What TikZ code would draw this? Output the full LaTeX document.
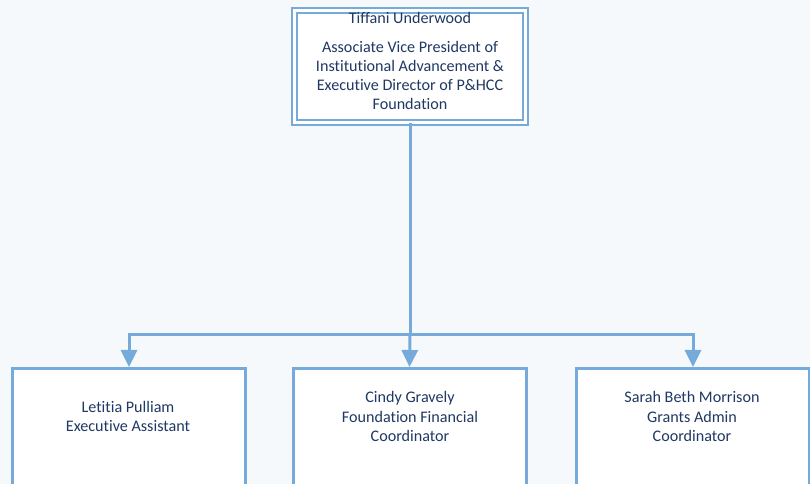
\documentclass[tikz,border=0pt]{standalone}
\usepackage{fontspec}
\setmainfont[RawFeature={-liga;-clig;-dlig}]{Carlito}
\usetikzlibrary{arrows.meta}
\definecolor{bg}{HTML}{F5F9FC}
\definecolor{edge}{HTML}{75AADB}
\definecolor{ink}{HTML}{1F3864}
\tikzset{
  px/.style={x=0.75pt,y=-0.75pt},
  topbox/.style={draw=edge, double=white, line width=1.5pt, double distance=2.25pt, fill=white, minimum width=173.25pt, minimum height=84pt, inner sep=0pt},
  subbox/.style={draw=edge, line width=2.25pt, fill=white, minimum width=174.75pt, minimum height=97.5pt, inner sep=0pt},
  lbl/.style={text=ink, font=\fontsize{12.1}{14.3}\selectfont, align=center, inner sep=0pt},
  conn/.style={draw=edge, line width=2.25pt},
  arr/.style={conn, -{Triangle[width=12pt,length=12.75pt]}}
}
\begin{document}
\begin{tikzpicture}[px]
\useasboundingbox (0,0) rectangle (810,484);
\fill[bg] (0,0) rectangle (810,484);
\clip (0,0) rectangle (810,484);
\node[topbox] (top) at (410,66.5) {};
\node[subbox] (left) at (129,433.5) {};
\node[subbox] (mid) at (409.5,433.5) {};
\node[subbox] (right) at (693,433.5) {};
\coordinate (bus) at (410,335);
\draw[conn] (top.south) -- (bus);
\draw[arr] (bus) -| (left.north);
\draw[arr] (bus) -- (mid.north);
\draw[arr] (bus) -| (right.north);
\node[lbl] (t1) at (410,18) {Tiffani Underwood};
\node[lbl] (t2) at (410,75.5) {Associate Vice President of\\Institutional Advancement \&\\Executive Director of P\&HCC\\Foundation};
\node[lbl] (l1) at (128,416.5) {Letitia Pulliam\\Executive Assistant};
\node[lbl] (m1) at (410,416.5) {Cindy Gravely\\Foundation Financial\\Coordinator};
\node[lbl] (r1) at (692,416.5) {Sarah Beth Morrison\\Grants Admin\\Coordinator};
\end{tikzpicture}
\end{document}
